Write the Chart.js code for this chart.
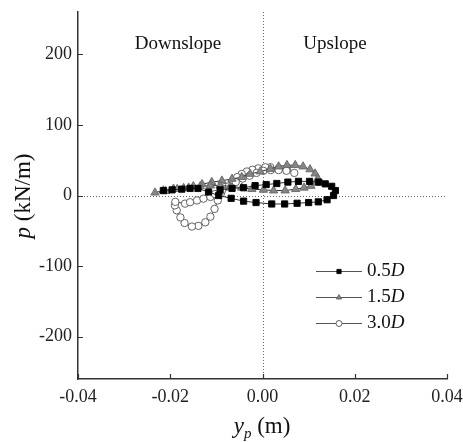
<!DOCTYPE html>
<html>
<head>
<meta charset="utf-8">
<script src="https://cdn.jsdelivr.net/npm/chart.js@4.4.1/dist/chart.umd.min.js"></script>
<style>
  html, body { margin: 0; padding: 0; background: #fff; }
  #wrap { width: 463px; height: 442px; }
</style>
</head>
<body>
<div id="wrap"><canvas id="myChart"></canvas></div>
<script>
// axis ticks
const xTicks = [-0.04, -0.02, 0, 0.02, 0.04];
const xTickLabels = ["-0.04", "-0.02", "0.00", "0.02", "0.04"];
const yTicks = [-200, -100, 0, 100, 200];
const yTickLabels = ["-200", "-100", "0", "100", "200"];

// series names (depth, in D)
const seriesNames = ["0.5", "1.5", "3.0"];

// 0.5D: y_p (m) and p (kN/m)
const yp05 = [-0.0215, -0.0196, -0.0175, -0.0157, -0.0140, -0.0117, -0.0095, -0.0068, -0.0041, -0.0014,
  0.0020, 0.0048, 0.0075, 0.0100, 0.0121, 0.0140, 0.0154, 0.0158, 0.0150, 0.0136, 0.0122, 0.0102,
  0.0078, 0.0055, 0.0031, 0.0008, -0.0016, -0.0041, -0.0066, -0.0092];
const p05 = [7, 8, 9, 10, 10, 5, 0, -4, -8, -10,
  -12, -12, -11, -10, -9, -6, 0, 7, 13, 16.5, 19, 20,
  20, 19, 17, 15.5, 14, 11, 10, 8];

// 1.5D
const yp15 = [-0.0233, -0.0215, -0.0193, -0.0171, -0.0150, -0.0131, -0.0110, -0.0088, -0.0066, -0.0045,
  -0.0027, -0.0005, 0.0017, 0.0035, 0.0053, 0.0071, 0.0088, 0.0103, 0.0114, 0.0120, 0.0116, 0.0105,
  0.0090, 0.0072, 0.0049, 0.0024, 0.0002, -0.0023, -0.0045, -0.0070, -0.0092, -0.0113, -0.0135,
  -0.0160, -0.0185, -0.0210];
const p15 = [4, 7, 9.5, 10.5, 13, 16, 19, 21, 23.5, 26,
  30.5, 34, 37.5, 41, 43, 43, 41, 37, 31, 24, 18, 13.5,
  11, 9, 7, 7, 8, 9, 11, 13, 14, 14, 13,
  11, 9, 6];

// 3.0D
const yp30 = [0.0069, 0.0053, 0.0035, 0.0017, 0.0006, -0.0009, -0.0022, -0.0034, -0.0045, -0.0055,
  -0.0066, -0.0081, -0.0090, -0.0097, -0.0104, -0.0113, -0.0124, -0.0139, -0.0153, -0.0169,
  -0.0178, -0.0186, -0.0190, -0.0189, -0.0168, -0.0157, -0.0142, -0.0128, -0.0113, -0.0103,
  -0.0088, -0.0073, -0.0058, -0.0043, -0.0028, -0.0013, 0.0002, 0.0018, 0.0035, 0.0052];
const p30 = [32, 36.5, 38.5, 40, 40, 38.5, 36.5, 34, 30.5, 26,
  19, 12, 3, -7, -19, -30, -38, -43, -44, -39,
  -31, -21, -14, -9, -11.5, -9.5, -7, -4.5, -2, 2,
  7, 13, 19, 24, 28, 32, 35, 36, 36, 35];

const toPoints = (xs, ys) => xs.map((x, i) => ({ x: x, y: ys[i] }));

const serif = "'Liberation Serif', 'Times New Roman', serif";

const styles = [
  { pointStyle: "rect", radius: 4.4, fill: "#000", stroke: "#000" },
  { pointStyle: "triangle", radius: 4.8, fill: "#858585", stroke: "#666" },
  { pointStyle: "circle", radius: 3.7, fill: "#fff", stroke: "#555" },
];

const seriesData = [toPoints(yp05, p05), toPoints(yp15, p15), toPoints(yp30, p30)];

const datasets = seriesData.map((d, i) => ({
  label: seriesNames[i] + "D",
  data: d,
  showLine: true,
  borderColor: "#333",
  borderWidth: 1,
  pointStyle: styles[i].pointStyle,
  pointRadius: styles[i].radius,
  pointBackgroundColor: styles[i].fill,
  pointBorderColor: styles[i].stroke,
  pointBorderWidth: 0.9,
}));

function drawMarker(ctx, s, x, y, r) {
  ctx.save();
  ctx.fillStyle = s.fill;
  ctx.strokeStyle = s.stroke;
  ctx.lineWidth = 0.9;
  ctx.beginPath();
  if (s.pointStyle === "rect") {
    ctx.rect(x - r * 0.7, y - r * 0.7, r * 1.4, r * 1.4);
  } else if (s.pointStyle === "triangle") {
    ctx.moveTo(x, y - r);
    ctx.lineTo(x + r * 0.87, y + r * 0.5);
    ctx.lineTo(x - r * 0.87, y + r * 0.5);
    ctx.closePath();
  } else {
    ctx.arc(x, y, r, 0, Math.PI * 2);
  }
  ctx.fill();
  ctx.stroke();
  ctx.restore();
}

const decor = {
  id: "decor",
  beforeDatasetsDraw(chart) {
    const { ctx, chartArea: a, scales: { x, y } } = chart;
    ctx.save();
    ctx.strokeStyle = "#666";
    ctx.lineWidth = 1;
    ctx.setLineDash([1, 2]);
    const x0 = Math.round(x.getPixelForValue(0)) + 0.5;
    const y0 = Math.round(y.getPixelForValue(0)) + 0.5;
    ctx.beginPath();
    ctx.moveTo(x0, a.top);
    ctx.lineTo(x0, a.bottom);
    ctx.moveTo(a.left, y0);
    ctx.lineTo(a.right, y0);
    ctx.stroke();
    ctx.restore();
  },
  afterDraw(chart) {
    const { ctx, chartArea: a, scales: { x, y } } = chart;
    ctx.save();
    // inward tick marks
    ctx.strokeStyle = "#333";
    ctx.lineWidth = 1.2;
    ctx.beginPath();
    xTicks.forEach(v => {
      const px = Math.round(x.getPixelForValue(v)) + 0.5;
      ctx.moveTo(px, a.bottom);
      ctx.lineTo(px, a.bottom - 5);
    });
    yTicks.forEach(v => {
      const py = Math.round(y.getPixelForValue(v)) + 0.5;
      ctx.moveTo(a.left, py);
      ctx.lineTo(a.left + 5, py);
    });
    ctx.stroke();

    ctx.fillStyle = "#111";
    ctx.textBaseline = "middle";
    ctx.textAlign = "center";
    ctx.font = "19px " + serif;
    ctx.fillText("Downslope", 178, 44);
    ctx.fillText("Upslope", 335, 44);

    // legend
    const rows = [271, 297, 323];
    seriesNames.forEach((name, i) => {
      const ry = rows[i];
      ctx.strokeStyle = "#555";
      ctx.lineWidth = 1;
      ctx.beginPath();
      ctx.moveTo(316, ry + 0.5);
      ctx.lineTo(362, ry + 0.5);
      ctx.stroke();
      drawMarker(ctx, styles[i], 339, ry + 0.5, 3);
      ctx.fillStyle = "#111";
      ctx.textAlign = "left";
      ctx.font = "19px " + serif;
      ctx.fillText(name, 367, ry);
      const w = ctx.measureText(name).width;
      ctx.font = "italic 19px " + serif;
      ctx.fillText("D", 367 + w, ry);
    });

    // x axis title: y_p (m)
    ctx.textBaseline = "alphabetic";
    ctx.textAlign = "left";
    ctx.font = "italic 23px " + serif;
    const wy = ctx.measureText("y").width;
    ctx.font = "italic 15px " + serif;
    const wp = ctx.measureText("p").width;
    ctx.font = "23px " + serif;
    const wm = ctx.measureText(" (m)").width;
    const sx = 262 - (wy + wp + wm) / 2;
    const by = 433;
    ctx.font = "italic 23px " + serif;
    ctx.fillText("y", sx, by);
    ctx.font = "italic 15px " + serif;
    ctx.fillText("p", sx + wy, by + 5);
    ctx.font = "23px " + serif;
    ctx.fillText(" (m)", sx + wy + wp, by);

    // y axis title: p (kN/m)
    ctx.translate(30, 196);
    ctx.rotate(-Math.PI / 2);
    ctx.font = "italic 23px " + serif;
    const wpp = ctx.measureText("p").width;
    ctx.font = "23px " + serif;
    const wk = ctx.measureText(" (kN/m)").width;
    const sy = -(wpp + wk) / 2;
    ctx.font = "italic 23px " + serif;
    ctx.fillText("p", sy, 0);
    ctx.font = "23px " + serif;
    ctx.fillText(" (kN/m)", sy + wpp, 0);
    ctx.restore();
  },
};

const ctx = document.getElementById("myChart");

new Chart(ctx, {
  type: "scatter",
  data: { datasets: datasets },
  options: {
    responsive: true,
    maintainAspectRatio: false,
    animation: false,
    layout: { padding: { top: 12, right: 16, left: 0, bottom: 0 } },
    plugins: { legend: { display: false }, tooltip: { enabled: false } },
    scales: {
      x: {
        type: "linear",
        position: "bottom",
        min: -0.04,
        max: 0.04,
        afterBuildTicks: s => { s.ticks = xTicks.map(v => ({ value: v })); },
        afterFit: s => { s.height = 63; s.paddingLeft = 0; s.paddingRight = 0; },
        ticks: {
          callback: (v, i) => xTickLabels[i],
          font: { family: serif, size: 18 },
          color: "#222",
          padding: 7,
          maxRotation: 0,
          autoSkip: false,
        },
        grid: { display: false, drawTicks: false },
        border: { display: true, color: "#333", width: 1.5 },
      },
      y: {
        type: "linear",
        min: -260,
        max: 260,
        afterBuildTicks: s => { s.ticks = yTicks.map(v => ({ value: v })); },
        afterFit: s => { s.width = 78; s.paddingTop = 0; s.paddingBottom = 0; },
        ticks: {
          callback: (v, i) => yTickLabels[i],
          font: { family: serif, size: 18 },
          color: "#222",
          padding: 6,
          autoSkip: false,
        },
        grid: { display: false, drawTicks: false },
        border: { display: true, color: "#333", width: 1.5 },
      },
    },
  },
  plugins: [decor],
});
</script>
</body>
</html>
